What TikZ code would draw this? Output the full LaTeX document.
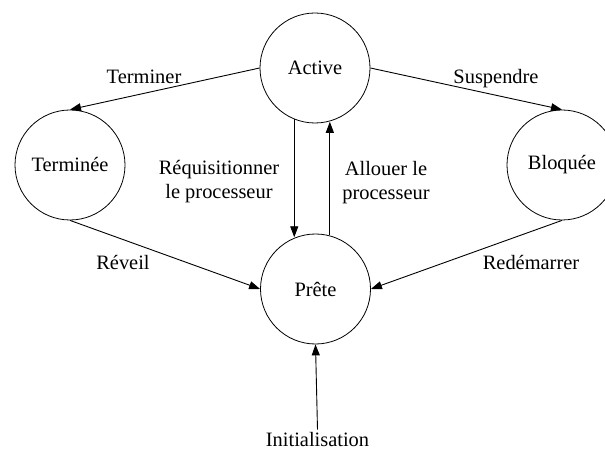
\documentclass[tikz,border=0pt]{standalone}
\usepackage{fontspec}
\setmainfont{Liberation Serif}
\usetikzlibrary{arrows.meta}
\begin{document}
\begin{tikzpicture}[x=1bp,y=-1bp,
  state/.style={draw, circle, minimum size=110bp, inner sep=0pt, line width=0.8bp, font=\fontsize{20.5}{24}\selectfont},
  lbl/.style={font=\fontsize{20.5}{24}\selectfont, inner sep=2bp},
  lbl2/.style={font=\fontsize{20.5}{24}\selectfont, align=center, inner sep=0pt},
  arr/.style={line width=0.9bp, -{Triangle[length=11bp,width=8bp]}}]
\useasboundingbox (0,0) rectangle (605,450);
\node[state] (Active) at (315,68) {Active};
\node[state] (Terminee) at (70,165) {Terminée};
\node[state] (Bloquee) at (562,165) {Bloquée};
\node[state] (Prete) at (315.5,289) {Prête};
\node[lbl, anchor=base] (Init) at (317.5,446) {Initialisation};
\node[lbl, anchor=base] (lTerm) at (144,84) {Terminer};
\node[lbl, anchor=base] (lSusp) at (496,84) {Suspendre};
\node[lbl, anchor=base] (lRev) at (123,270) {Réveil};
\node[lbl, anchor=base] (lRed) at (531,270) {Redémarrer};
\node[lbl2] (lReq) at (219,182) {Réquisitionner\\le processeur};
\node[lbl2] (lAll) at (386,182.5) {Allouer le\\processeur};
\draw[arr] (Active.west) -- (Terminee.north);
\draw[arr] (Active.east) -- (Bloquee.north);
\draw[arr] (Active.248.7) -- (Active.248.7 |- Prete.111.7);
\draw[arr] (Prete.75.9) -- (Prete.75.9 |- Active.284.7);
\draw[arr] (Terminee.south) -- (Prete.west);
\draw[arr] (Bloquee.south) -- (Prete.east);
\draw[arr] (Init.north) -- (Prete.south);
\end{tikzpicture}
\end{document}
